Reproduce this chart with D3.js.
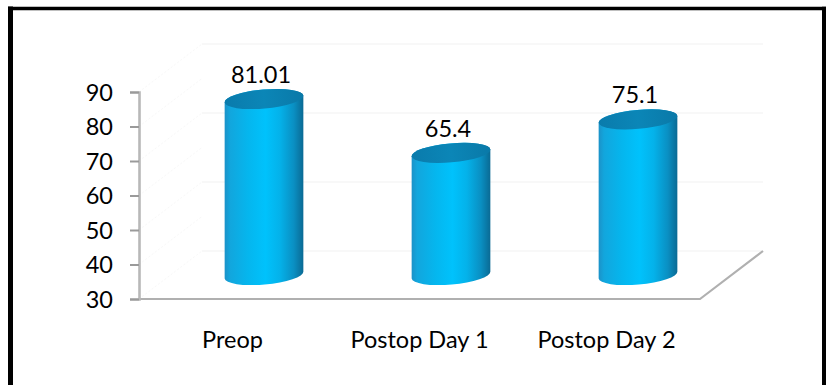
<!DOCTYPE html>
<html>
<head>
<meta charset="utf-8">
<script src="https://cdn.jsdelivr.net/npm/d3@7"></script>
<style>
  html, body { margin: 0; padding: 0; background: #fff; }
  svg { display: block; }
  text { font-family: Lato, "Open Sans", sans-serif; fill: #000; }
</style>
</head>
<body>
<svg id="chart" width="831" height="385"></svg>
<script>
// Mean scores by time point
const categories = ["Preop", "Postop Day 1", "Postop Day 2"];
const values = [81.01, 65.4, 75.1];
const valueLabels = ["81.01", "65.4", "75.1"];
const yTicks = [30, 40, 50, 60, 70, 80, 90];
const wallGridTicks = [30, 50, 70, 90];

const svg = d3.select("#chart");
const fontSize = 23.5;

// Outer frame
svg.append("line").attr("x1", 10.5).attr("x2", 10.5).attr("y1", 6.5).attr("y2", 390)
  .attr("stroke", "#000").attr("stroke-width", 5);
svg.append("line").attr("x1", 8).attr("x2", 826).attr("y1", 8.5).attr("y2", 8.5)
  .attr("stroke", "#000").attr("stroke-width", 3.5);
svg.append("line").attr("x1", 824).attr("x2", 824).attr("y1", 6.7).attr("y2", 390)
  .attr("stroke", "#000").attr("stroke-width", 4);

// Scales for the front plane of the 3D box
const y = d3.scaleLinear().domain([30, 90]).range([299, 92]);
const x = d3.scaleBand().domain(categories).range([139, 700]);

// Depth offset of the back wall relative to the front plane
const depthX = 63, depthY = -48;
const midX = depthX / 2, midY = depthY / 2;

// Back wall gridlines and left wall diagonals
const walls = svg.append("g");
walls.selectAll("line.grid").data(wallGridTicks).join("line")
  .attr("class", "grid")
  .attr("x1", 139 + depthX).attr("x2", 700 + depthX)
  .attr("y1", d => y(d) + depthY).attr("y2", d => y(d) + depthY)
  .attr("stroke", "#f1f1f1").attr("stroke-width", 1.2);
walls.selectAll("line.side").data(yTicks).join("line")
  .attr("class", "side")
  .attr("x1", 139).attr("x2", 139 + depthX)
  .attr("y1", d => y(d)).attr("y2", d => y(d) + depthY)
  .attr("stroke", "#f8f8f8").attr("stroke-width", 1)
  .attr("stroke-dasharray", "2,2");

// Floor edges
svg.append("path")
  .attr("d", `M139,${y(30)}L700,${y(30)}L${700 + depthX},${y(30) + depthY}`)
  .attr("fill", "none").attr("stroke", "#b0b0b0").attr("stroke-width", 2.2);

// Y axis
const yAxis = d3.axisLeft(y).tickValues(yTicks).tickSize(9).tickPadding(17).tickFormat(d3.format("d"));
const gy = svg.append("g").attr("transform", "translate(139,0)").call(yAxis);
gy.select(".domain").attr("stroke", "#b8b8b8").attr("stroke-width", 2.6);
gy.selectAll(".tick line").attr("stroke", "#9a9a9a").attr("stroke-width", 2);
gy.selectAll(".tick text")
  .attr("font-family", "Lato, 'Open Sans', sans-serif")
  .attr("font-size", fontSize).attr("fill", "#000").attr("dy", "0.36em");

// X axis labels
const xAxis = d3.axisBottom(x).tickSize(0).tickPadding(0);
const gx = svg.append("g").attr("transform", `translate(0,${y(30)})`).call(xAxis);
gx.select(".domain").remove();
gx.selectAll(".tick text")
  .attr("font-family", "Lato, 'Open Sans', sans-serif")
  .attr("font-size", fontSize).attr("fill", "#000")
  .attr("y", 49).attr("dy", 0);

// Cylinder gradients
const defs = svg.append("defs");
const bodyGrad = defs.append("linearGradient").attr("id", "cylBody")
  .attr("x1", "0%").attr("x2", "100%").attr("y1", "0%").attr("y2", "0%");
[["0%", "#1b92c8"], ["7%", "#12a6dd"], ["30%", "#05b6ee"], ["52%", "#00c2fc"],
 ["70%", "#04b2ea"], ["88%", "#0a8fc2"], ["100%", "#0a6a94"]]
  .forEach(([o, c]) => bodyGrad.append("stop").attr("offset", o).attr("stop-color", c));
const capGrad = defs.append("linearGradient").attr("id", "cylCap")
  .attr("x1", "0%").attr("x2", "100%").attr("y1", "0%").attr("y2", "0%");
[["0%", "#0a7bac"], ["50%", "#0b86b7"], ["100%", "#0a79a8"]]
  .forEach(([o, c]) => capGrad.append("stop").attr("offset", o).attr("stop-color", c));

// Cylinders
const rx = 39.5, ry = 9.5, tilt = -5;
const rad = tilt * Math.PI / 180;
const ex = rx * Math.cos(rad), ey = rx * Math.sin(rad);

const bars = svg.append("g").selectAll("g.bar")
  .data(categories.map((c, i) => ({ cat: c, value: values[i], label: valueLabels[i] })))
  .join("g").attr("class", "bar");

bars.each(function (d) {
  const g = d3.select(this);
  const cx = x(d.cat) + x.bandwidth() / 2 + midX;
  const yTop = y(d.value) + midY;
  const yBot = y(30) + midY;
  const body = `M${cx - ex},${yTop - ey}` +
    `L${cx - ex},${yBot - ey}` +
    `A${rx},${ry} ${tilt} 0 0 ${cx + ex},${yBot + ey}` +
    `L${cx + ex},${yTop + ey}` +
    `A${rx},${ry} ${tilt} 0 0 ${cx - ex},${yTop - ey}Z`;
  g.append("path").attr("d", body).attr("fill", "url(#cylBody)");
  g.append("ellipse")
    .attr("cx", 0).attr("cy", 0).attr("rx", rx).attr("ry", ry)
    .attr("transform", `translate(${cx},${yTop}) rotate(${tilt})`)
    .attr("fill", "url(#cylCap)");
  g.append("text")
    .attr("x", cx - 3).attr("y", yTop - 16)
    .attr("text-anchor", "middle")
    .attr("font-size", fontSize)
    .text(d.label);
});
</script>
</body>
</html>
